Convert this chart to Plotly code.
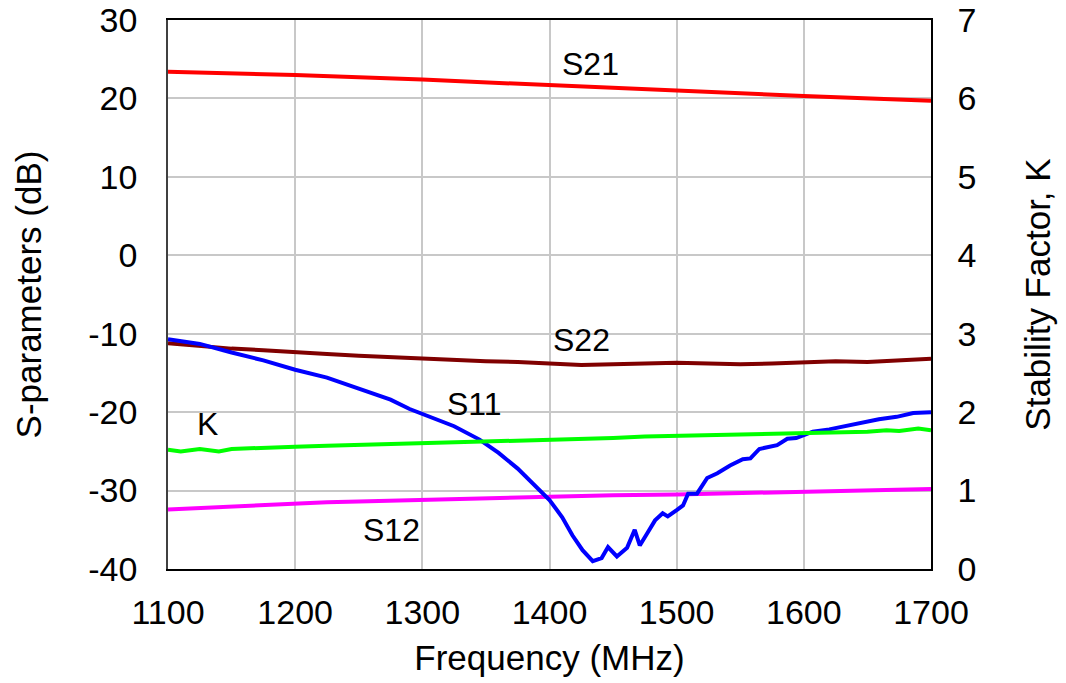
import plotly.graph_objects as go

# S21 (dB)
s21_f = [1100, 1200, 1300, 1400, 1500, 1600, 1700]
s21_db = [23.4, 23.0, 22.4, 21.7, 20.9, 20.3, 19.7]

# S22 (dB)
s22_f = [1100, 1125, 1150, 1175, 1200, 1225, 1250, 1275, 1300, 1325, 1350, 1375, 1400,
         1425, 1450, 1475, 1500, 1525, 1550, 1575, 1600, 1625, 1650, 1675, 1700]
s22_db = [-11.2, -11.6, -11.9, -12.1, -12.4, -12.6, -12.8, -13.0, -13.1, -13.3, -13.5, -13.6, -13.8,
          -14.0, -13.9, -13.8, -13.7, -13.8, -13.9, -13.8, -13.7, -13.5, -13.6, -13.4, -13.2]

# S11 (dB)
s11_f = [1100, 1125, 1150, 1175, 1200, 1225, 1250, 1275, 1290, 1300, 1325, 1345, 1360, 1375, 1382,
         1390, 1400, 1410, 1418, 1426, 1434, 1441, 1446, 1453, 1461, 1467, 1471, 1477, 1483,
         1489, 1493, 1500, 1505, 1509, 1516, 1524, 1532, 1542, 1552, 1558, 1565, 1579, 1587,
         1594, 1607, 1620, 1634, 1646, 1659, 1673, 1686, 1700]
s11_db = [-10.7, -11.3, -12.4, -13.4, -14.6, -15.6, -17.0, -18.4, -19.6, -20.2, -21.8, -23.5, -25.2, -27.2, -28.3,
          -29.7, -31.2, -33.4, -35.7, -37.6, -39.0, -38.6, -37.2, -38.4, -37.3, -35.0, -37.0, -35.4, -33.8,
          -32.9, -33.3, -32.5, -31.9, -30.4, -30.4, -28.4, -27.8, -26.8, -26.0, -25.9, -24.7, -24.2, -23.4,
          -23.3, -22.5, -22.2, -21.7, -21.4, -20.9, -20.6, -20.1, -20.0]

# K stability factor (right axis)
k_f = [1100, 1110, 1125, 1140, 1150, 1175, 1200, 1225, 1250, 1275, 1300, 1325, 1350, 1375, 1400,
       1425, 1450, 1475, 1500, 1525, 1550, 1575, 1600, 1625, 1650, 1665, 1675, 1690, 1700]
k_val = [1.52, 1.50, 1.53, 1.50, 1.53, 1.55, 1.56, 1.57, 1.58, 1.59, 1.60, 1.61, 1.62, 1.64, 1.65,
         1.66, 1.67, 1.69, 1.70, 1.71, 1.72, 1.73, 1.74, 1.74, 1.75, 1.77, 1.76, 1.79, 1.77]

# S12 (dB)
s12_f = [1100, 1125, 1150, 1175, 1200, 1225, 1250, 1275, 1300, 1350, 1400, 1450, 1500,
         1550, 1600, 1650, 1700]
s12_db = [-32.4, -32.2, -32.0, -31.8, -31.6, -31.5, -31.4, -31.3, -31.2, -30.9, -30.7, -30.6, -30.5,
          -30.3, -30.1, -29.9, -29.8]

x_ticks = [1100, 1200, 1300, 1400, 1500, 1600, 1700]
y_ticks = [-40, -30, -20, -10, 0, 10, 20, 30]
y_ticktext = ["-40", "-30", "-20", "-10", "0", "10", "20", "30"]
y2_ticks = [0, 1, 2, 3, 4, 5, 6, 7]

labels = ["S21", "S22", "S11", "K", "S12"]
label_x = [1432, 1425, 1341, 1131, 1276]
label_y = [24.4, -10.8, -18.9, -21.5, -35.0]

FONT = "Liberation Sans, Arial, sans-serif"
TICK = 34
TITLE = 35

fig = go.Figure()
fig.add_trace(go.Scatter(x=s21_f, y=s21_db, mode="lines", line=dict(color="#FF0000", width=4), name="S21"))
fig.add_trace(go.Scatter(x=s22_f, y=s22_db, mode="lines", line=dict(color="#800000", width=4), name="S22"))
fig.add_trace(go.Scatter(x=k_f, y=k_val, mode="lines", line=dict(color="#00FF00", width=4), name="K", yaxis="y2"))
fig.add_trace(go.Scatter(x=s12_f, y=s12_db, mode="lines", line=dict(color="#FF00FF", width=4), name="S12"))
fig.add_trace(go.Scatter(x=s11_f, y=s11_db, mode="lines", line=dict(color="#0000FF", width=4), name="S11"))

for t, x, y in zip(labels, label_x, label_y):
    fig.add_annotation(x=x, y=y, text=t, showarrow=False, font=dict(size=32, color="black", family=FONT))

fig.update_layout(
    width=1066, height=683,
    margin=dict(l=168, r=135, t=20, b=114),
    paper_bgcolor="white", plot_bgcolor="white",
    showlegend=False,
    font=dict(family=FONT, size=TICK, color="black"),
    xaxis=dict(range=[1100, 1700], tickvals=x_ticks, showgrid=True, gridcolor="#C8C8C8", gridwidth=1.5,
               showline=True, linecolor="black", linewidth=1.5, mirror=True, ticks="",
               ticklabelstandoff=12, automargin=False, ticklabeloverflow="allow",
               title=dict(text="Frequency (MHz)", font=dict(size=TITLE), standoff=16),
               tickfont=dict(size=TICK), zeroline=False),
    yaxis=dict(range=[-40, 30], tickvals=y_ticks, ticktext=y_ticktext, showgrid=True,
               gridcolor="#C8C8C8", gridwidth=1.5,
               showline=True, linecolor="#404040", linewidth=1.5, ticks="",
               ticklabelstandoff=22, automargin=False, ticklabeloverflow="allow",
               title=dict(text="S-parameters (dB)", font=dict(size=TITLE), standoff=36),
               tickfont=dict(size=TICK), zeroline=False),
    yaxis2=dict(range=[0, 7], tickvals=y2_ticks, overlaying="y", side="right", showgrid=False,
                showline=True, linecolor="black", linewidth=1.5, ticks="",
                ticklabelstandoff=18, automargin=False, ticklabeloverflow="allow",
                title=dict(text="Stability Factor, K", font=dict(size=TITLE), standoff=50),
                tickfont=dict(size=TICK), zeroline=False),
)

fig.write_html("out.html", config={"displayModeBar": False},
               post_script="document.body.style.margin='0';")
